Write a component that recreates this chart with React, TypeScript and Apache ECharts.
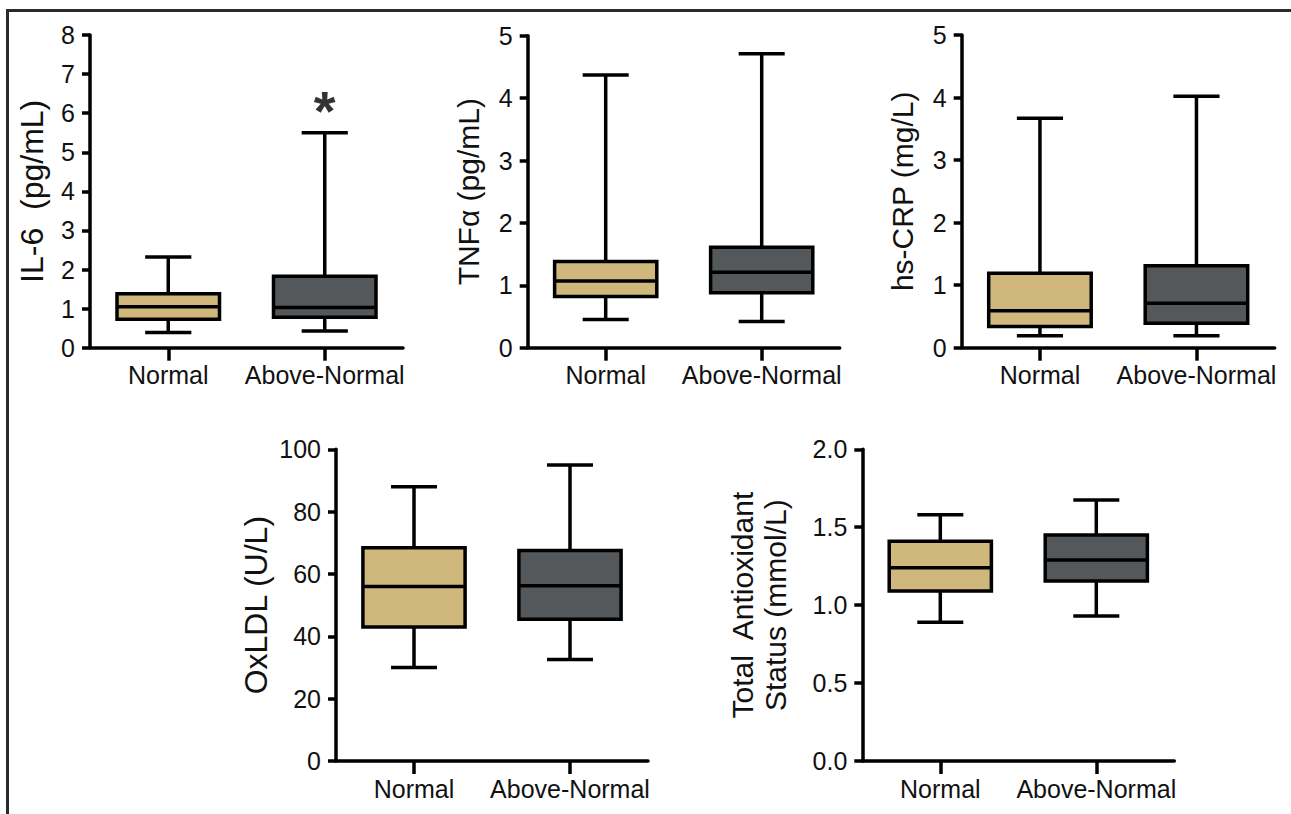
import React, { useEffect, useRef } from "react";
import * as echarts from "echarts";

const categories = ["Normal", "Above-Normal"];
const boxColors = ["#D0B87C", "#55585A"];

// Each row: [min, Q1, median, Q3, max]
const il6Values = [
  [0.39, 0.73, 1.05, 1.38, 2.32],
  [0.43, 0.78, 1.03, 1.83, 5.5],
];
const tnfValues = [
  [0.45, 0.82, 1.07, 1.38, 4.37],
  [0.42, 0.88, 1.21, 1.61, 4.71],
];
const crpValues = [
  [0.19, 0.34, 0.59, 1.19, 3.67],
  [0.19, 0.39, 0.71, 1.31, 4.02],
];
const oxldlValues = [
  [30, 43, 56, 68.4, 88],
  [32.6, 45.5, 56.2, 67.5, 95],
];
const tasValues = [
  [0.89, 1.09, 1.24, 1.41, 1.58],
  [0.93, 1.155, 1.29, 1.45, 1.675],
];

// significance marker: [category index, y position]
const il6Significance = [[1, 6.08]];

const titles = ["IL-6  (pg/mL)", "TNF\u03b1 (pg/mL)", "hs-CRP (mg/L)", "OxLDL (U/L)", "Total  Antioxidant\nStatus (mmol/L)"];
const titleSizes = [32, 30, 30, 32, 30];
const axisMax = [8, 5, 5, 100, 2];
const axisInterval = [1, 1, 1, 20, 0.5];
const axisDecimals = [0, 0, 0, 0, 1];

const FONT = "'Liberation Sans', Arial, Helvetica, sans-serif";
const LW = 3.5;

export default function App() {
  const ref = useRef<HTMLDivElement>(null);

  useEffect(() => {
    if (!ref.current) return;
    const chart = echarts.init(ref.current, undefined, { renderer: "svg" });

    const allData = [il6Values, tnfValues, crpValues, oxldlValues, tasValues];
    const grids = [
      { left: 90, top: 35, width: 313, height: 312.7 },
      { left: 527.7, top: 35.7, width: 312, height: 312 },
      { left: 961.7, top: 35, width: 313, height: 312.7 },
      { left: 336, top: 449.3, width: 312, height: 311.7 },
      { left: 862.3, top: 449.3, width: 312, height: 311.7 },
    ];
    const nameGaps = [42, 43, 43, 64, 70];

    const xAxes = grids.map((_, i) => ({
      type: "category",
      gridIndex: i,
      data: categories,
      axisLine: { show: true, lineStyle: { color: "#000", width: LW } },
      axisTick: { show: true, alignWithLabel: true, length: 13, lineStyle: { color: "#000", width: LW } },
      axisLabel: { interval: 0, fontSize: 25, color: "#111", margin: 15, fontFamily: FONT },
      splitLine: { show: false },
    }));

    const yAxes = grids.map((_, i) => ({
      type: "value",
      gridIndex: i,
      min: 0,
      max: axisMax[i],
      interval: axisInterval[i],
      name: titles[i],
      nameLocation: "middle",
      nameRotate: 90,
      nameGap: nameGaps[i],
      nameTextStyle: { fontSize: titleSizes[i], color: "#111", fontFamily: FONT, lineHeight: 33 },
      axisLine: { show: true, onZero: false, lineStyle: { color: "#000", width: LW } },
      axisTick: { show: true, length: 8, lineStyle: { color: "#000", width: LW } },
      axisLabel: {
        fontSize: 25,
        color: "#111",
        margin: 15,
        fontFamily: FONT,
        formatter: (v: number) => v.toFixed(axisDecimals[i]),
      },
      splitLine: { show: false },
    }));

    const boxSeries = allData.map((rows, i) => ({
      type: "custom",
      xAxisIndex: i,
      yAxisIndex: i,
      encode: { x: 0, y: [1, 2, 3, 4, 5] },
      data: rows.map((r, k) => [k, ...r]),
      renderItem: (params: any, api: any) => {
        const x = api.value(0);
        const pMin = api.coord([x, api.value(1)]);
        const pQ1 = api.coord([x, api.value(2)]);
        const pMed = api.coord([x, api.value(3)]);
        const pQ3 = api.coord([x, api.value(4)]);
        const pMax = api.coord([x, api.value(5)]);
        const band = api.size([1, 0])[0];
        const bw = band * 0.655;
        const cw = band * 0.295;
        const cx = pMin[0];
        const st = { stroke: "#000", lineWidth: LW, fill: "none" };
        return {
          type: "group",
          children: [
            { type: "line", shape: { x1: cx, y1: pMin[1], x2: cx, y2: pQ1[1] }, style: st },
            { type: "line", shape: { x1: cx, y1: pQ3[1], x2: cx, y2: pMax[1] }, style: st },
            { type: "line", shape: { x1: cx - cw / 2, y1: pMin[1], x2: cx + cw / 2, y2: pMin[1] }, style: st },
            { type: "line", shape: { x1: cx - cw / 2, y1: pMax[1], x2: cx + cw / 2, y2: pMax[1] }, style: st },
            {
              type: "rect",
              shape: { x: cx - bw / 2, y: pQ3[1], width: bw, height: pQ1[1] - pQ3[1] },
              style: { fill: boxColors[params.dataIndex], stroke: "#000", lineWidth: LW },
            },
            { type: "line", shape: { x1: cx - bw / 2, y1: pMed[1], x2: cx + bw / 2, y2: pMed[1] }, style: st },
          ],
        };
      },
      z: 3,
    }));

    const sigSeries = {
      type: "scatter",
      xAxisIndex: 0,
      yAxisIndex: 0,
      data: il6Significance,
      symbolSize: 0,
      label: {
        show: true,
        position: "inside",
        formatter: "*",
        fontSize: 56,
        fontWeight: "bold",
        color: "#000",
        fontFamily: FONT,
      },
      silent: true,
    };

    chart.setOption({
      animation: false,
      backgroundColor: "#fff",
      grid: grids.map((g) => ({ ...g, containLabel: false })),
      xAxis: xAxes,
      yAxis: yAxes,
      series: [...boxSeries, sigSeries],
      graphic: [
        { type: "line", shape: { x1: 7.5, y1: 9, x2: 7.5, y2: 814 }, style: { stroke: "#2b2b2b", lineWidth: 3 } },
        { type: "line", shape: { x1: 6, y1: 10.5, x2: 1291, y2: 10.5 }, style: { stroke: "#2b2b2b", lineWidth: 3 } },
      ],
    });

    return () => chart.dispose();
  }, []);

  return (
    <div
      ref={ref}
      style={{ position: "absolute", left: 0, top: 0, width: 1291, height: 814 }}
    />
  );
}
